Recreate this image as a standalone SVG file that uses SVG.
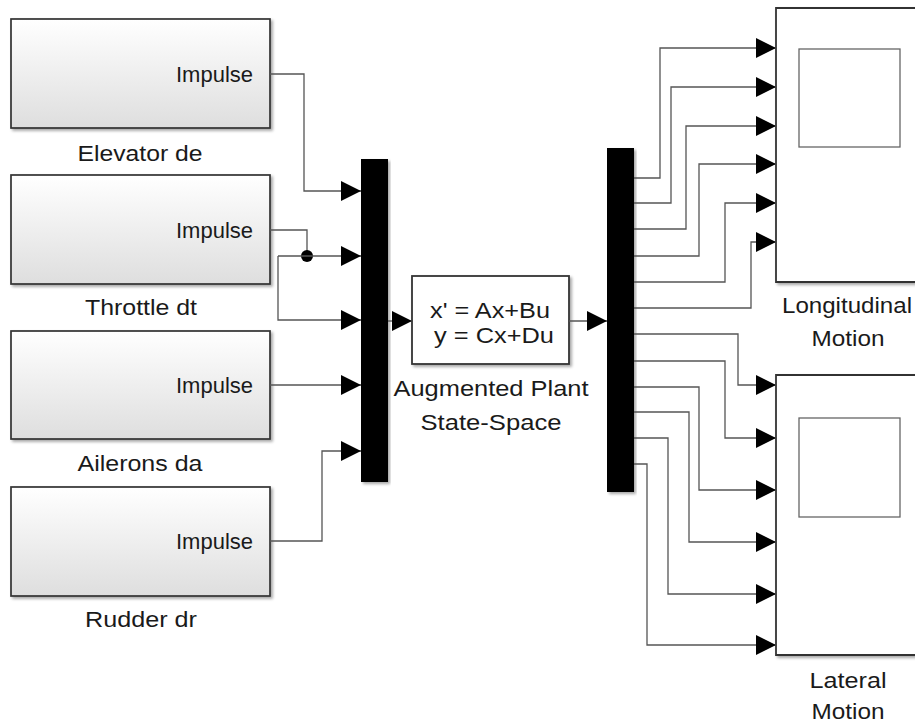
<svg xmlns="http://www.w3.org/2000/svg" width="915" height="725" viewBox="0 0 915 725">
<defs>
<linearGradient id="gb" x1="0" y1="0" x2="0" y2="1">
<stop offset="0" stop-color="#ffffff"/>
<stop offset="1" stop-color="#dedede"/>
</linearGradient>
<filter id="sh" x="-5%" y="-5%" width="115%" height="120%">
<feGaussianBlur in="SourceAlpha" stdDeviation="1.5"/>
<feOffset dx="2" dy="2" result="b"/>
<feComponentTransfer><feFuncA type="linear" slope="0.35"/></feComponentTransfer>
<feMerge><feMergeNode/><feMergeNode in="SourceGraphic"/></feMerge>
</filter>
<marker id="ar" markerWidth="20" markerHeight="20" refX="20" refY="10" orient="auto" markerUnits="userSpaceOnUse">
<path d="M0,0 L20,10 L0,20 Z" fill="#000"/>
</marker>
</defs>
<style>
text { font-family: "Liberation Sans", Arial, sans-serif; font-size: 22px; fill: #1a1a1a; }
.blk { fill: url(#gb); stroke: #333; stroke-width: 1.7; }
.box { fill: #fff; stroke: #333; stroke-width: 1.8; }
.bar { fill: #000; }
.inner { fill: #fff; stroke: #666; stroke-width: 1.3; }
.w { fill: none; stroke: #555; stroke-width: 1.3; }
.wa { fill: none; stroke: #555; stroke-width: 1.3; marker-end: url(#ar); }
</style>
<rect width="915" height="725" fill="#fff"/>

<g id="elevator">
<rect class="blk" x="11" y="19" width="259" height="109" filter="url(#sh)"/>
<text x="253" y="82" text-anchor="end" textLength="77" lengthAdjust="spacingAndGlyphs">Impulse</text>
<text x="140" y="161" text-anchor="middle" textLength="125" lengthAdjust="spacingAndGlyphs">Elevator de</text>
</g>
<g id="throttle">
<rect class="blk" x="11" y="175" width="259" height="109" filter="url(#sh)"/>
<text x="253" y="238" text-anchor="end" textLength="77" lengthAdjust="spacingAndGlyphs">Impulse</text>
<text x="141" y="315" text-anchor="middle" textLength="112" lengthAdjust="spacingAndGlyphs">Throttle dt</text>
</g>
<g id="ailerons">
<rect class="blk" x="11" y="331" width="259" height="108" filter="url(#sh)"/>
<text x="253" y="393" text-anchor="end" textLength="77" lengthAdjust="spacingAndGlyphs">Impulse</text>
<text x="140" y="471" text-anchor="middle" textLength="125" lengthAdjust="spacingAndGlyphs">Ailerons da</text>
</g>
<g id="rudder">
<rect class="blk" x="11" y="487" width="259" height="109" filter="url(#sh)"/>
<text x="253" y="549" text-anchor="end" textLength="77" lengthAdjust="spacingAndGlyphs">Impulse</text>
<text x="141" y="627" text-anchor="middle" textLength="112" lengthAdjust="spacingAndGlyphs">Rudder dr</text>
</g>

<g id="mux">
<rect class="bar" x="361" y="159" width="27" height="323" filter="url(#sh)"/>
</g>

<g id="statespace">
<rect class="box" x="412" y="276" width="157" height="88" filter="url(#sh)"/>
<text x="490" y="318" text-anchor="middle" textLength="120" lengthAdjust="spacingAndGlyphs">x' = Ax+Bu</text>
<text x="494" y="343" text-anchor="middle" textLength="120" lengthAdjust="spacingAndGlyphs">y = Cx+Du</text>
<text x="491" y="396" text-anchor="middle" textLength="195" lengthAdjust="spacingAndGlyphs">Augmented Plant</text>
<text x="491" y="430" text-anchor="middle" textLength="141" lengthAdjust="spacingAndGlyphs">State-Space</text>
</g>

<g id="demux">
<rect class="bar" x="607" y="148" width="27" height="344" filter="url(#sh)"/>
</g>

<g id="longitudinal">
<path d="M916,8 L776,8 L776,282 L916,282" class="box" filter="url(#sh)"/>
<rect class="inner" x="799" y="49" width="101" height="98"/>
<text x="847" y="313" text-anchor="middle" textLength="130" lengthAdjust="spacingAndGlyphs">Longitudinal</text>
<text x="848" y="346" text-anchor="middle" textLength="73" lengthAdjust="spacingAndGlyphs">Motion</text>
</g>

<g id="lateral">
<path d="M916,375 L776,375 L776,655 L916,655" class="box" filter="url(#sh)"/>
<rect class="inner" x="799" y="418" width="101" height="99"/>
<text x="848" y="688" text-anchor="middle" textLength="77" lengthAdjust="spacingAndGlyphs">Lateral</text>
<text x="848" y="719" text-anchor="middle" textLength="73" lengthAdjust="spacingAndGlyphs">Motion</text>
</g>

<g id="connectors">
<path class="wa" d="M270,74 H304 V191 H361"/>
<path class="w" d="M270,230 H307 V256"/>
<circle cx="307" cy="256" r="6" fill="#000"/>
<path class="wa" d="M278,256 H361"/>
<path class="wa" d="M278,256 V320 H361"/>
<path class="wa" d="M270,385 H361"/>
<path class="wa" d="M270,541 H322 V451 H361"/>
<path class="wa" d="M388,321 H412"/>
<path class="wa" d="M569,321 H607"/>

<path class="wa" d="M634,178 H660 V48 H776"/>
<path class="wa" d="M634,203 H671 V87 H776"/>
<path class="wa" d="M634,229 H686 V126 H776"/>
<path class="wa" d="M634,256 H699 V164 H776"/>
<path class="wa" d="M634,282 H725 V203 H776"/>
<path class="wa" d="M634,308 H751 V242 H776"/>

<path class="wa" d="M634,334 H738 V385 H776"/>
<path class="wa" d="M634,361 H725 V438 H776"/>
<path class="wa" d="M634,387 H699 V490 H776"/>
<path class="wa" d="M634,412 H689 V542 H776"/>
<path class="wa" d="M634,438 H668 V594 H776"/>
<path class="wa" d="M634,464 H647 V645 H776"/>
</g>
</svg>
